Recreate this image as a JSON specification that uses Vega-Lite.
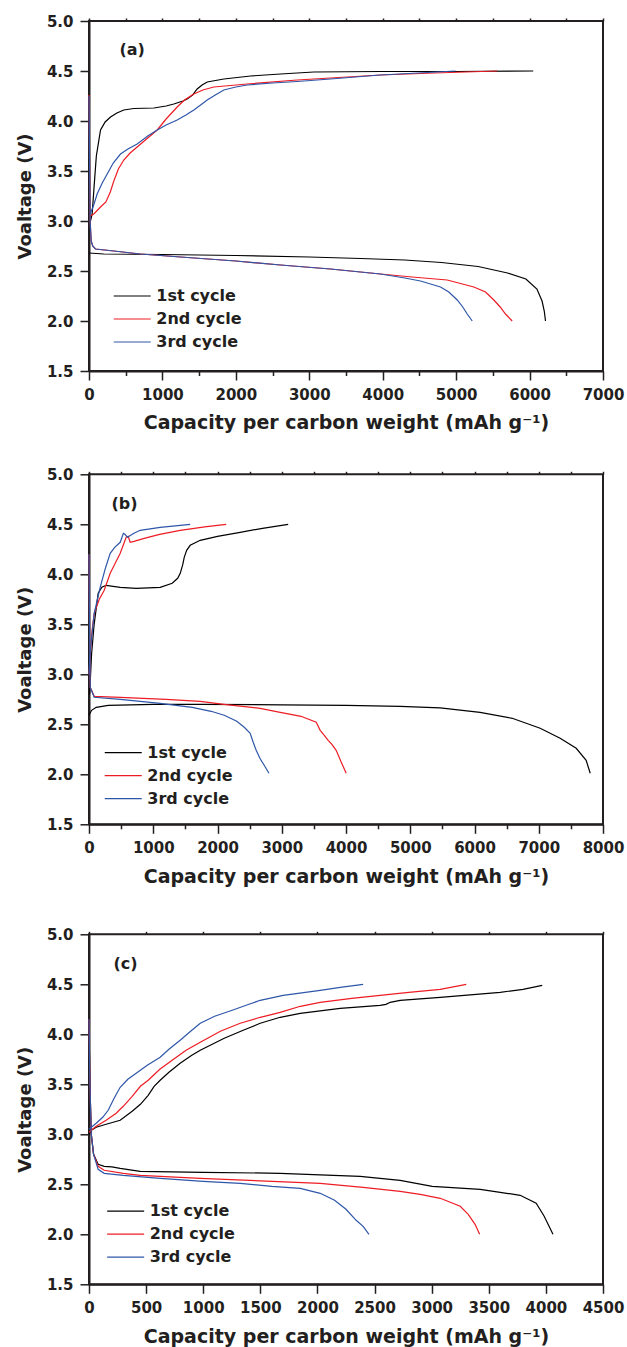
{
  "$schema": "https://vega.github.io/schema/vega-lite/v6.json",
  "background": "white",
  "padding": {"left": 15, "top": 13, "right": 0, "bottom": 0},
  "config": {
    "font": "DejaVu Sans",
    "view": {"stroke": "#231f20", "strokeWidth": 2},
    "axis": {
      "grid": false,
      "domainColor": "#231f20", "domainWidth": 2,
      "tickColor": "#231f20", "tickWidth": 1.5,
      "labelFont": "DejaVu Sans", "labelFontWeight": "bold", "labelFontSize": 15, "labelColor": "#231f20",
      "labelOverlap": false, "labelFlush": false,
      "titleFont": "DejaVu Sans", "titleFontWeight": "bold", "titleColor": "#231f20"
    },
    "axisX": {"labelPadding": 7.6, "titleFontSize": 19, "titlePadding": 11.3},
    "axisY": {"labelPadding": 7, "titleFontSize": 18, "titlePadding": 12},
    "legend": {
      "labelFont": "DejaVu Sans", "labelFontWeight": "bold", "labelFontSize": 16, "labelColor": "#231f20",
      "symbolType": "M-2,0H2", "symbolSize": 342, "symbolStrokeWidth": 1.2,
      "padding": 0, "rowPadding": 5, "labelOffset": 14, "title": null
    }
  },
  "datasets": {
    "a": [
      {"c":"1st cycle","s":"d","i":0,"x":0,"y":2.68},{"c":"1st cycle","s":"d","i":1,"x":200,"y":2.67},{"c":"1st cycle","s":"d","i":2,"x":1000,"y":2.665},{"c":"1st cycle","s":"d","i":3,"x":2000,"y":2.655},{"c":"1st cycle","s":"d","i":4,"x":3000,"y":2.64},{"c":"1st cycle","s":"d","i":5,"x":3700,"y":2.625},{"c":"1st cycle","s":"d","i":6,"x":4300,"y":2.61},{"c":"1st cycle","s":"d","i":7,"x":4800,"y":2.585},{"c":"1st cycle","s":"d","i":8,"x":5300,"y":2.545},{"c":"1st cycle","s":"d","i":9,"x":5700,"y":2.48},{"c":"1st cycle","s":"d","i":10,"x":5950,"y":2.42},{"c":"1st cycle","s":"d","i":11,"x":6100,"y":2.32},{"c":"1st cycle","s":"d","i":12,"x":6170,"y":2.2},{"c":"1st cycle","s":"d","i":13,"x":6200,"y":2.1},{"c":"1st cycle","s":"d","i":14,"x":6217,"y":2.0},
      {"c":"1st cycle","s":"ch","i":0,"x":20,"y":3.0},{"c":"1st cycle","s":"ch","i":1,"x":43,"y":3.07},{"c":"1st cycle","s":"ch","i":2,"x":70,"y":3.35},{"c":"1st cycle","s":"ch","i":3,"x":100,"y":3.65},{"c":"1st cycle","s":"ch","i":4,"x":157,"y":3.91},{"c":"1st cycle","s":"ch","i":5,"x":220,"y":3.99},{"c":"1st cycle","s":"ch","i":6,"x":293,"y":4.04},{"c":"1st cycle","s":"ch","i":7,"x":380,"y":4.08},{"c":"1st cycle","s":"ch","i":8,"x":474,"y":4.11},{"c":"1st cycle","s":"ch","i":9,"x":610,"y":4.125},{"c":"1st cycle","s":"ch","i":10,"x":883,"y":4.13},{"c":"1st cycle","s":"ch","i":11,"x":1050,"y":4.15},{"c":"1st cycle","s":"ch","i":12,"x":1155,"y":4.17},{"c":"1st cycle","s":"ch","i":13,"x":1280,"y":4.2},{"c":"1st cycle","s":"ch","i":14,"x":1337,"y":4.22},{"c":"1st cycle","s":"ch","i":15,"x":1410,"y":4.26},{"c":"1st cycle","s":"ch","i":16,"x":1473,"y":4.32},{"c":"1st cycle","s":"ch","i":17,"x":1540,"y":4.36},{"c":"1st cycle","s":"ch","i":18,"x":1610,"y":4.39},{"c":"1st cycle","s":"ch","i":19,"x":1836,"y":4.42},{"c":"1st cycle","s":"ch","i":20,"x":2200,"y":4.45},{"c":"1st cycle","s":"ch","i":21,"x":2608,"y":4.47},{"c":"1st cycle","s":"ch","i":22,"x":3062,"y":4.49},{"c":"1st cycle","s":"ch","i":23,"x":3970,"y":4.495},{"c":"1st cycle","s":"ch","i":24,"x":5000,"y":4.495},{"c":"1st cycle","s":"ch","i":25,"x":6050,"y":4.5},
      {"c":"2nd cycle","s":"d","i":0,"x":0,"y":4.26},{"c":"2nd cycle","s":"d","i":1,"x":8,"y":3.6},{"c":"2nd cycle","s":"d","i":2,"x":15,"y":3.0},{"c":"2nd cycle","s":"d","i":3,"x":30,"y":2.8},{"c":"2nd cycle","s":"d","i":4,"x":50,"y":2.75},{"c":"2nd cycle","s":"d","i":5,"x":88,"y":2.72},{"c":"2nd cycle","s":"d","i":6,"x":338,"y":2.7},{"c":"2nd cycle","s":"d","i":7,"x":700,"y":2.67},{"c":"2nd cycle","s":"d","i":8,"x":1246,"y":2.64},{"c":"2nd cycle","s":"d","i":9,"x":2000,"y":2.6},{"c":"2nd cycle","s":"d","i":10,"x":2608,"y":2.56},{"c":"2nd cycle","s":"d","i":11,"x":3288,"y":2.52},{"c":"2nd cycle","s":"d","i":12,"x":3970,"y":2.47},{"c":"2nd cycle","s":"d","i":13,"x":4400,"y":2.44},{"c":"2nd cycle","s":"d","i":14,"x":4878,"y":2.41},{"c":"2nd cycle","s":"d","i":15,"x":5241,"y":2.34},{"c":"2nd cycle","s":"d","i":16,"x":5400,"y":2.29},{"c":"2nd cycle","s":"d","i":17,"x":5513,"y":2.21},{"c":"2nd cycle","s":"d","i":18,"x":5600,"y":2.14},{"c":"2nd cycle","s":"d","i":19,"x":5672,"y":2.07},{"c":"2nd cycle","s":"d","i":20,"x":5763,"y":2.0},
      {"c":"2nd cycle","s":"ch","i":0,"x":15,"y":3.05},{"c":"2nd cycle","s":"ch","i":1,"x":65,"y":3.07},{"c":"2nd cycle","s":"ch","i":2,"x":157,"y":3.14},{"c":"2nd cycle","s":"ch","i":3,"x":230,"y":3.19},{"c":"2nd cycle","s":"ch","i":4,"x":290,"y":3.29},{"c":"2nd cycle","s":"ch","i":5,"x":338,"y":3.4},{"c":"2nd cycle","s":"ch","i":6,"x":400,"y":3.52},{"c":"2nd cycle","s":"ch","i":7,"x":474,"y":3.61},{"c":"2nd cycle","s":"ch","i":8,"x":560,"y":3.68},{"c":"2nd cycle","s":"ch","i":9,"x":656,"y":3.74},{"c":"2nd cycle","s":"ch","i":10,"x":800,"y":3.83},{"c":"2nd cycle","s":"ch","i":11,"x":929,"y":3.91},{"c":"2nd cycle","s":"ch","i":12,"x":1050,"y":4.02},{"c":"2nd cycle","s":"ch","i":13,"x":1201,"y":4.14},{"c":"2nd cycle","s":"ch","i":14,"x":1300,"y":4.21},{"c":"2nd cycle","s":"ch","i":15,"x":1428,"y":4.27},{"c":"2nd cycle","s":"ch","i":16,"x":1550,"y":4.31},{"c":"2nd cycle","s":"ch","i":17,"x":1700,"y":4.34},{"c":"2nd cycle","s":"ch","i":18,"x":2155,"y":4.37},{"c":"2nd cycle","s":"ch","i":19,"x":2836,"y":4.41},{"c":"2nd cycle","s":"ch","i":20,"x":3288,"y":4.43},{"c":"2nd cycle","s":"ch","i":21,"x":3970,"y":4.46},{"c":"2nd cycle","s":"ch","i":22,"x":4700,"y":4.48},{"c":"2nd cycle","s":"ch","i":23,"x":5559,"y":4.5},
      {"c":"3rd cycle","s":"d","i":0,"x":0,"y":4.25},{"c":"3rd cycle","s":"d","i":1,"x":8,"y":3.6},{"c":"3rd cycle","s":"d","i":2,"x":15,"y":3.0},{"c":"3rd cycle","s":"d","i":3,"x":30,"y":2.8},{"c":"3rd cycle","s":"d","i":4,"x":50,"y":2.75},{"c":"3rd cycle","s":"d","i":5,"x":88,"y":2.72},{"c":"3rd cycle","s":"d","i":6,"x":338,"y":2.7},{"c":"3rd cycle","s":"d","i":7,"x":700,"y":2.67},{"c":"3rd cycle","s":"d","i":8,"x":1246,"y":2.64},{"c":"3rd cycle","s":"d","i":9,"x":2000,"y":2.6},{"c":"3rd cycle","s":"d","i":10,"x":2608,"y":2.56},{"c":"3rd cycle","s":"d","i":11,"x":3288,"y":2.52},{"c":"3rd cycle","s":"d","i":12,"x":3970,"y":2.47},{"c":"3rd cycle","s":"d","i":13,"x":4300,"y":2.43},{"c":"3rd cycle","s":"d","i":14,"x":4515,"y":2.4},{"c":"3rd cycle","s":"d","i":15,"x":4787,"y":2.34},{"c":"3rd cycle","s":"d","i":16,"x":4900,"y":2.29},{"c":"3rd cycle","s":"d","i":17,"x":5015,"y":2.21},{"c":"3rd cycle","s":"d","i":18,"x":5090,"y":2.14},{"c":"3rd cycle","s":"d","i":19,"x":5151,"y":2.07},{"c":"3rd cycle","s":"d","i":20,"x":5219,"y":2.0},
      {"c":"3rd cycle","s":"ch","i":0,"x":15,"y":3.07},{"c":"3rd cycle","s":"ch","i":1,"x":60,"y":3.15},{"c":"3rd cycle","s":"ch","i":2,"x":111,"y":3.27},{"c":"3rd cycle","s":"ch","i":3,"x":180,"y":3.38},{"c":"3rd cycle","s":"ch","i":4,"x":248,"y":3.47},{"c":"3rd cycle","s":"ch","i":5,"x":330,"y":3.58},{"c":"3rd cycle","s":"ch","i":6,"x":429,"y":3.67},{"c":"3rd cycle","s":"ch","i":7,"x":530,"y":3.72},{"c":"3rd cycle","s":"ch","i":8,"x":656,"y":3.77},{"c":"3rd cycle","s":"ch","i":9,"x":800,"y":3.85},{"c":"3rd cycle","s":"ch","i":10,"x":929,"y":3.91},{"c":"3rd cycle","s":"ch","i":11,"x":1050,"y":3.96},{"c":"3rd cycle","s":"ch","i":12,"x":1201,"y":4.01},{"c":"3rd cycle","s":"ch","i":13,"x":1320,"y":4.06},{"c":"3rd cycle","s":"ch","i":14,"x":1428,"y":4.11},{"c":"3rd cycle","s":"ch","i":15,"x":1520,"y":4.16},{"c":"3rd cycle","s":"ch","i":16,"x":1610,"y":4.21},{"c":"3rd cycle","s":"ch","i":17,"x":1720,"y":4.26},{"c":"3rd cycle","s":"ch","i":18,"x":1836,"y":4.31},{"c":"3rd cycle","s":"ch","i":19,"x":2000,"y":4.34},{"c":"3rd cycle","s":"ch","i":20,"x":2155,"y":4.36},{"c":"3rd cycle","s":"ch","i":21,"x":2500,"y":4.38},{"c":"3rd cycle","s":"ch","i":22,"x":2836,"y":4.395},{"c":"3rd cycle","s":"ch","i":23,"x":3288,"y":4.42},{"c":"3rd cycle","s":"ch","i":24,"x":3970,"y":4.46},{"c":"3rd cycle","s":"ch","i":25,"x":4991,"y":4.5}
    ],
    "b": [
      {"c":"1st cycle","s":"d","i":0,"x":0,"y":2.59},{"c":"1st cycle","s":"d","i":1,"x":40,"y":2.64},{"c":"1st cycle","s":"d","i":2,"x":112,"y":2.67},{"c":"1st cycle","s":"d","i":3,"x":299,"y":2.69},{"c":"1st cycle","s":"d","i":4,"x":1000,"y":2.7},{"c":"1st cycle","s":"d","i":5,"x":1731,"y":2.7},{"c":"1st cycle","s":"d","i":6,"x":3000,"y":2.695},{"c":"1st cycle","s":"d","i":7,"x":4000,"y":2.69},{"c":"1st cycle","s":"d","i":8,"x":4844,"y":2.68},{"c":"1st cycle","s":"d","i":9,"x":5466,"y":2.665},{"c":"1st cycle","s":"d","i":10,"x":6087,"y":2.62},{"c":"1st cycle","s":"d","i":11,"x":6587,"y":2.56},{"c":"1st cycle","s":"d","i":12,"x":7022,"y":2.46},{"c":"1st cycle","s":"d","i":13,"x":7333,"y":2.36},{"c":"1st cycle","s":"d","i":14,"x":7583,"y":2.26},{"c":"1st cycle","s":"d","i":15,"x":7738,"y":2.14},{"c":"1st cycle","s":"d","i":16,"x":7801,"y":2.01},
      {"c":"1st cycle","s":"ch","i":0,"x":10,"y":2.8},{"c":"1st cycle","s":"ch","i":1,"x":40,"y":3.2},{"c":"1st cycle","s":"ch","i":2,"x":80,"y":3.5},{"c":"1st cycle","s":"ch","i":3,"x":143,"y":3.81},{"c":"1st cycle","s":"ch","i":4,"x":200,"y":3.87},{"c":"1st cycle","s":"ch","i":5,"x":268,"y":3.89},{"c":"1st cycle","s":"ch","i":6,"x":486,"y":3.87},{"c":"1st cycle","s":"ch","i":7,"x":735,"y":3.86},{"c":"1st cycle","s":"ch","i":8,"x":1108,"y":3.87},{"c":"1st cycle","s":"ch","i":9,"x":1295,"y":3.91},{"c":"1st cycle","s":"ch","i":10,"x":1380,"y":3.96},{"c":"1st cycle","s":"ch","i":11,"x":1420,"y":4.01},{"c":"1st cycle","s":"ch","i":12,"x":1460,"y":4.1},{"c":"1st cycle","s":"ch","i":13,"x":1482,"y":4.17},{"c":"1st cycle","s":"ch","i":14,"x":1520,"y":4.24},{"c":"1st cycle","s":"ch","i":15,"x":1575,"y":4.29},{"c":"1st cycle","s":"ch","i":16,"x":1731,"y":4.34},{"c":"1st cycle","s":"ch","i":17,"x":2000,"y":4.38},{"c":"1st cycle","s":"ch","i":18,"x":2353,"y":4.42},{"c":"1st cycle","s":"ch","i":19,"x":2700,"y":4.46},{"c":"1st cycle","s":"ch","i":20,"x":3100,"y":4.5},
      {"c":"2nd cycle","s":"d","i":0,"x":0,"y":4.2},{"c":"2nd cycle","s":"d","i":1,"x":8,"y":3.5},{"c":"2nd cycle","s":"d","i":2,"x":19,"y":2.87},{"c":"2nd cycle","s":"d","i":3,"x":81,"y":2.78},{"c":"2nd cycle","s":"d","i":4,"x":486,"y":2.77},{"c":"2nd cycle","s":"d","i":5,"x":1200,"y":2.75},{"c":"2nd cycle","s":"d","i":6,"x":1731,"y":2.73},{"c":"2nd cycle","s":"d","i":7,"x":2100,"y":2.7},{"c":"2nd cycle","s":"d","i":8,"x":2664,"y":2.66},{"c":"2nd cycle","s":"d","i":9,"x":2976,"y":2.62},{"c":"2nd cycle","s":"d","i":10,"x":3300,"y":2.58},{"c":"2nd cycle","s":"d","i":11,"x":3536,"y":2.52},{"c":"2nd cycle","s":"d","i":12,"x":3598,"y":2.44},{"c":"2nd cycle","s":"d","i":13,"x":3650,"y":2.4},{"c":"2nd cycle","s":"d","i":14,"x":3723,"y":2.34},{"c":"2nd cycle","s":"d","i":15,"x":3780,"y":2.3},{"c":"2nd cycle","s":"d","i":16,"x":3847,"y":2.24},{"c":"2nd cycle","s":"d","i":17,"x":3920,"y":2.13},{"c":"2nd cycle","s":"d","i":18,"x":4003,"y":2.01},
      {"c":"2nd cycle","s":"ch","i":0,"x":0,"y":3.0},{"c":"2nd cycle","s":"ch","i":1,"x":20,"y":3.2},{"c":"2nd cycle","s":"ch","i":2,"x":50,"y":3.45},{"c":"2nd cycle","s":"ch","i":3,"x":81,"y":3.61},{"c":"2nd cycle","s":"ch","i":4,"x":160,"y":3.75},{"c":"2nd cycle","s":"ch","i":5,"x":237,"y":3.84},{"c":"2nd cycle","s":"ch","i":6,"x":330,"y":4.01},{"c":"2nd cycle","s":"ch","i":7,"x":400,"y":4.1},{"c":"2nd cycle","s":"ch","i":8,"x":486,"y":4.21},{"c":"2nd cycle","s":"ch","i":9,"x":579,"y":4.37},{"c":"2nd cycle","s":"ch","i":10,"x":610,"y":4.38},{"c":"2nd cycle","s":"ch","i":11,"x":641,"y":4.32},{"c":"2nd cycle","s":"ch","i":12,"x":700,"y":4.33},{"c":"2nd cycle","s":"ch","i":13,"x":859,"y":4.36},{"c":"2nd cycle","s":"ch","i":14,"x":1100,"y":4.4},{"c":"2nd cycle","s":"ch","i":15,"x":1420,"y":4.44},{"c":"2nd cycle","s":"ch","i":16,"x":1800,"y":4.475},{"c":"2nd cycle","s":"ch","i":17,"x":2135,"y":4.5},
      {"c":"3rd cycle","s":"d","i":0,"x":0,"y":4.2},{"c":"3rd cycle","s":"d","i":1,"x":8,"y":3.5},{"c":"3rd cycle","s":"d","i":2,"x":19,"y":2.87},{"c":"3rd cycle","s":"d","i":3,"x":81,"y":2.77},{"c":"3rd cycle","s":"d","i":4,"x":486,"y":2.75},{"c":"3rd cycle","s":"d","i":5,"x":1108,"y":2.71},{"c":"3rd cycle","s":"d","i":6,"x":1606,"y":2.67},{"c":"3rd cycle","s":"d","i":7,"x":1900,"y":2.63},{"c":"3rd cycle","s":"d","i":8,"x":2104,"y":2.59},{"c":"3rd cycle","s":"d","i":9,"x":2300,"y":2.53},{"c":"3rd cycle","s":"d","i":10,"x":2416,"y":2.47},{"c":"3rd cycle","s":"d","i":11,"x":2509,"y":2.41},{"c":"3rd cycle","s":"d","i":12,"x":2550,"y":2.33},{"c":"3rd cycle","s":"d","i":13,"x":2602,"y":2.24},{"c":"3rd cycle","s":"d","i":14,"x":2660,"y":2.16},{"c":"3rd cycle","s":"d","i":15,"x":2727,"y":2.09},{"c":"3rd cycle","s":"d","i":16,"x":2801,"y":2.01},
      {"c":"3rd cycle","s":"ch","i":0,"x":0,"y":3.0},{"c":"3rd cycle","s":"ch","i":1,"x":15,"y":3.2},{"c":"3rd cycle","s":"ch","i":2,"x":37,"y":3.34},{"c":"3rd cycle","s":"ch","i":3,"x":81,"y":3.61},{"c":"3rd cycle","s":"ch","i":4,"x":174,"y":3.87},{"c":"3rd cycle","s":"ch","i":5,"x":250,"y":4.05},{"c":"3rd cycle","s":"ch","i":6,"x":330,"y":4.21},{"c":"3rd cycle","s":"ch","i":7,"x":400,"y":4.27},{"c":"3rd cycle","s":"ch","i":8,"x":486,"y":4.32},{"c":"3rd cycle","s":"ch","i":9,"x":535,"y":4.41},{"c":"3rd cycle","s":"ch","i":10,"x":560,"y":4.4},{"c":"3rd cycle","s":"ch","i":11,"x":598,"y":4.37},{"c":"3rd cycle","s":"ch","i":12,"x":700,"y":4.41},{"c":"3rd cycle","s":"ch","i":13,"x":797,"y":4.44},{"c":"3rd cycle","s":"ch","i":14,"x":1108,"y":4.47},{"c":"3rd cycle","s":"ch","i":15,"x":1575,"y":4.5}
    ],
    "c": [
      {"c":"1st cycle","s":"d","i":0,"x":0,"y":4.15},{"c":"1st cycle","s":"d","i":1,"x":8,"y":3.5},{"c":"1st cycle","s":"d","i":2,"x":20,"y":3.0},{"c":"1st cycle","s":"d","i":3,"x":40,"y":2.8},{"c":"1st cycle","s":"d","i":4,"x":80,"y":2.7},{"c":"1st cycle","s":"d","i":5,"x":133,"y":2.68},{"c":"1st cycle","s":"d","i":6,"x":200,"y":2.675},{"c":"1st cycle","s":"d","i":7,"x":273,"y":2.66},{"c":"1st cycle","s":"d","i":8,"x":448,"y":2.63},{"c":"1st cycle","s":"d","i":9,"x":1000,"y":2.62},{"c":"1st cycle","s":"d","i":10,"x":1674,"y":2.61},{"c":"1st cycle","s":"d","i":11,"x":2374,"y":2.58},{"c":"1st cycle","s":"d","i":12,"x":2724,"y":2.54},{"c":"1st cycle","s":"d","i":13,"x":3005,"y":2.48},{"c":"1st cycle","s":"d","i":14,"x":3425,"y":2.45},{"c":"1st cycle","s":"d","i":15,"x":3600,"y":2.42},{"c":"1st cycle","s":"d","i":16,"x":3775,"y":2.39},{"c":"1st cycle","s":"d","i":17,"x":3915,"y":2.31},{"c":"1st cycle","s":"d","i":18,"x":3985,"y":2.18},{"c":"1st cycle","s":"d","i":19,"x":4062,"y":2.0},
      {"c":"1st cycle","s":"ch","i":0,"x":0,"y":3.0},{"c":"1st cycle","s":"ch","i":1,"x":20,"y":3.04},{"c":"1st cycle","s":"ch","i":2,"x":63,"y":3.07},{"c":"1st cycle","s":"ch","i":3,"x":150,"y":3.1},{"c":"1st cycle","s":"ch","i":4,"x":273,"y":3.14},{"c":"1st cycle","s":"ch","i":5,"x":378,"y":3.23},{"c":"1st cycle","s":"ch","i":6,"x":450,"y":3.3},{"c":"1st cycle","s":"ch","i":7,"x":518,"y":3.39},{"c":"1st cycle","s":"ch","i":8,"x":570,"y":3.48},{"c":"1st cycle","s":"ch","i":9,"x":623,"y":3.54},{"c":"1st cycle","s":"ch","i":10,"x":700,"y":3.62},{"c":"1st cycle","s":"ch","i":11,"x":798,"y":3.71},{"c":"1st cycle","s":"ch","i":12,"x":900,"y":3.79},{"c":"1st cycle","s":"ch","i":13,"x":974,"y":3.84},{"c":"1st cycle","s":"ch","i":14,"x":1184,"y":3.96},{"c":"1st cycle","s":"ch","i":15,"x":1350,"y":4.04},{"c":"1st cycle","s":"ch","i":16,"x":1499,"y":4.11},{"c":"1st cycle","s":"ch","i":17,"x":1674,"y":4.17},{"c":"1st cycle","s":"ch","i":18,"x":1849,"y":4.21},{"c":"1st cycle","s":"ch","i":19,"x":2199,"y":4.26},{"c":"1st cycle","s":"ch","i":20,"x":2549,"y":4.29},{"c":"1st cycle","s":"ch","i":21,"x":2600,"y":4.3},{"c":"1st cycle","s":"ch","i":22,"x":2637,"y":4.32},{"c":"1st cycle","s":"ch","i":23,"x":2724,"y":4.34},{"c":"1st cycle","s":"ch","i":24,"x":3075,"y":4.37},{"c":"1st cycle","s":"ch","i":25,"x":3600,"y":4.42},{"c":"1st cycle","s":"ch","i":26,"x":3800,"y":4.45},{"c":"1st cycle","s":"ch","i":27,"x":3968,"y":4.49},
      {"c":"2nd cycle","s":"d","i":0,"x":0,"y":4.15},{"c":"2nd cycle","s":"d","i":1,"x":8,"y":3.5},{"c":"2nd cycle","s":"d","i":2,"x":20,"y":3.0},{"c":"2nd cycle","s":"d","i":3,"x":40,"y":2.8},{"c":"2nd cycle","s":"d","i":4,"x":80,"y":2.68},{"c":"2nd cycle","s":"d","i":5,"x":133,"y":2.64},{"c":"2nd cycle","s":"d","i":6,"x":300,"y":2.61},{"c":"2nd cycle","s":"d","i":7,"x":448,"y":2.59},{"c":"2nd cycle","s":"d","i":8,"x":974,"y":2.56},{"c":"2nd cycle","s":"d","i":9,"x":1500,"y":2.535},{"c":"2nd cycle","s":"d","i":10,"x":2024,"y":2.51},{"c":"2nd cycle","s":"d","i":11,"x":2400,"y":2.47},{"c":"2nd cycle","s":"d","i":12,"x":2724,"y":2.43},{"c":"2nd cycle","s":"d","i":13,"x":2900,"y":2.4},{"c":"2nd cycle","s":"d","i":14,"x":3075,"y":2.36},{"c":"2nd cycle","s":"d","i":15,"x":3250,"y":2.28},{"c":"2nd cycle","s":"d","i":16,"x":3320,"y":2.2},{"c":"2nd cycle","s":"d","i":17,"x":3380,"y":2.1},{"c":"2nd cycle","s":"d","i":18,"x":3420,"y":2.0},
      {"c":"2nd cycle","s":"ch","i":0,"x":0,"y":3.02},{"c":"2nd cycle","s":"ch","i":1,"x":20,"y":3.04},{"c":"2nd cycle","s":"ch","i":2,"x":63,"y":3.08},{"c":"2nd cycle","s":"ch","i":3,"x":150,"y":3.14},{"c":"2nd cycle","s":"ch","i":4,"x":238,"y":3.21},{"c":"2nd cycle","s":"ch","i":5,"x":300,"y":3.28},{"c":"2nd cycle","s":"ch","i":6,"x":378,"y":3.38},{"c":"2nd cycle","s":"ch","i":7,"x":450,"y":3.48},{"c":"2nd cycle","s":"ch","i":8,"x":518,"y":3.54},{"c":"2nd cycle","s":"ch","i":9,"x":620,"y":3.65},{"c":"2nd cycle","s":"ch","i":10,"x":728,"y":3.74},{"c":"2nd cycle","s":"ch","i":11,"x":850,"y":3.84},{"c":"2nd cycle","s":"ch","i":12,"x":974,"y":3.92},{"c":"2nd cycle","s":"ch","i":13,"x":1150,"y":4.03},{"c":"2nd cycle","s":"ch","i":14,"x":1324,"y":4.11},{"c":"2nd cycle","s":"ch","i":15,"x":1500,"y":4.17},{"c":"2nd cycle","s":"ch","i":16,"x":1674,"y":4.22},{"c":"2nd cycle","s":"ch","i":17,"x":1850,"y":4.28},{"c":"2nd cycle","s":"ch","i":18,"x":2024,"y":4.32},{"c":"2nd cycle","s":"ch","i":19,"x":2300,"y":4.36},{"c":"2nd cycle","s":"ch","i":20,"x":2549,"y":4.39},{"c":"2nd cycle","s":"ch","i":21,"x":2800,"y":4.42},{"c":"2nd cycle","s":"ch","i":22,"x":3075,"y":4.45},{"c":"2nd cycle","s":"ch","i":23,"x":3303,"y":4.5},
      {"c":"3rd cycle","s":"d","i":0,"x":0,"y":4.15},{"c":"3rd cycle","s":"d","i":1,"x":8,"y":3.5},{"c":"3rd cycle","s":"d","i":2,"x":20,"y":3.0},{"c":"3rd cycle","s":"d","i":3,"x":40,"y":2.8},{"c":"3rd cycle","s":"d","i":4,"x":80,"y":2.65},{"c":"3rd cycle","s":"d","i":5,"x":133,"y":2.61},{"c":"3rd cycle","s":"d","i":6,"x":300,"y":2.59},{"c":"3rd cycle","s":"d","i":7,"x":623,"y":2.56},{"c":"3rd cycle","s":"d","i":8,"x":1000,"y":2.53},{"c":"3rd cycle","s":"d","i":9,"x":1324,"y":2.51},{"c":"3rd cycle","s":"d","i":10,"x":1600,"y":2.48},{"c":"3rd cycle","s":"d","i":11,"x":1849,"y":2.46},{"c":"3rd cycle","s":"d","i":12,"x":2024,"y":2.41},{"c":"3rd cycle","s":"d","i":13,"x":2150,"y":2.34},{"c":"3rd cycle","s":"d","i":14,"x":2250,"y":2.25},{"c":"3rd cycle","s":"d","i":15,"x":2339,"y":2.14},{"c":"3rd cycle","s":"d","i":16,"x":2400,"y":2.08},{"c":"3rd cycle","s":"d","i":17,"x":2451,"y":2.0},
      {"c":"3rd cycle","s":"ch","i":0,"x":0,"y":3.05},{"c":"3rd cycle","s":"ch","i":1,"x":20,"y":3.07},{"c":"3rd cycle","s":"ch","i":2,"x":63,"y":3.11},{"c":"3rd cycle","s":"ch","i":3,"x":120,"y":3.17},{"c":"3rd cycle","s":"ch","i":4,"x":168,"y":3.24},{"c":"3rd cycle","s":"ch","i":5,"x":220,"y":3.36},{"c":"3rd cycle","s":"ch","i":6,"x":273,"y":3.47},{"c":"3rd cycle","s":"ch","i":7,"x":340,"y":3.55},{"c":"3rd cycle","s":"ch","i":8,"x":413,"y":3.61},{"c":"3rd cycle","s":"ch","i":9,"x":510,"y":3.69},{"c":"3rd cycle","s":"ch","i":10,"x":623,"y":3.77},{"c":"3rd cycle","s":"ch","i":11,"x":700,"y":3.85},{"c":"3rd cycle","s":"ch","i":12,"x":798,"y":3.94},{"c":"3rd cycle","s":"ch","i":13,"x":900,"y":4.04},{"c":"3rd cycle","s":"ch","i":14,"x":974,"y":4.11},{"c":"3rd cycle","s":"ch","i":15,"x":1100,"y":4.18},{"c":"3rd cycle","s":"ch","i":16,"x":1254,"y":4.24},{"c":"3rd cycle","s":"ch","i":17,"x":1400,"y":4.3},{"c":"3rd cycle","s":"ch","i":18,"x":1499,"y":4.34},{"c":"3rd cycle","s":"ch","i":19,"x":1700,"y":4.39},{"c":"3rd cycle","s":"ch","i":20,"x":2024,"y":4.44},{"c":"3rd cycle","s":"ch","i":21,"x":2200,"y":4.47},{"c":"3rd cycle","s":"ch","i":22,"x":2400,"y":4.5}
    ]
  },
  "bounds": "flush",
  "spacing": 103.3,
  "resolve": {"scale": {"color": "independent"}, "legend": {"color": "independent"}},
  "vconcat": [
    {
      "width": 514, "height": 350,
      "resolve": {"axis": {"x": "independent"}},
      "layer": [
        {
          "data": {"name": "a"},
          "mark": {"type": "line", "strokeWidth": 1.2},
          "encoding": {
            "x": {"field": "x", "type": "quantitative", "scale": {"domain": [0, 7000], "nice": false, "zero": false},
              "axis": {"orient": "bottom", "title": "Capacity per carbon weight (mAh g⁻¹)", "values": [0,500,1000,1500,2000,2500,3000,3500,4000,4500,5000,5500,6000,6500,7000],
                "labelExpr": "datum.value % 1000 == 0 ? format(datum.value, 'd') : ''",
                "tickSize": {"condition": {"test": "datum.value % 1000 == 0", "value": 9}, "value": 4.5}}},
            "y": {"field": "y", "type": "quantitative", "scale": {"domain": [1.5, 5.0], "nice": false, "zero": false},
              "axis": {"title": "Voaltage (V)", "values": [1.5,1.75,2,2.25,2.5,2.75,3,3.25,3.5,3.75,4,4.25,4.5,4.75,5],
                "labelExpr": "(datum.value * 2) % 1 == 0 ? format(datum.value, '.1f') : ''",
                "tickSize": {"condition": {"test": "(datum.value * 2) % 1 == 0", "value": 9}, "value": 4.5}}},
            "color": {"field": "c", "type": "nominal", "scale": {"domain": ["1st cycle", "2nd cycle", "3rd cycle"], "range": ["#000000", "#ed1c24", "#2e56a8"]},
              "legend": {"orient": "none", "legendX": 33.25, "legendY": 265}},
            "detail": {"field": "s"},
            "order": {"field": "i", "type": "quantitative"}
          }
        },
        {
          "data": {"values": [{}]},
          "mark": {"type": "text", "text": "(a)", "align": "left", "baseline": "middle", "font": "DejaVu Sans", "fontWeight": "bold", "fontSize": 16, "color": "#231f20"},
          "encoding": {
            "x": {"datum": 415, "type": "quantitative",
              "axis": {"orient": "top", "labels": false, "title": null, "domain": false, "tickSize": 3, "values": [0,500,1000,1500,2000,2500,3000,3500,4000,4500,5000,5500,6000,6500,7000]}},
            "y": {"datum": 4.707, "type": "quantitative"}
          }
        }
      ]
    },
    {
      "bounds": "flush",
      "spacing": 110,
      "resolve": {"scale": {"color": "independent"}, "legend": {"color": "independent"}},
      "vconcat": [
        {
          "width": 514, "height": 350,
          "resolve": {"axis": {"x": "independent"}},
          "layer": [
            {
              "data": {"name": "b"},
              "mark": {"type": "line", "strokeWidth": 1.2},
              "encoding": {
                "x": {"field": "x", "type": "quantitative", "scale": {"domain": [0, 8000], "nice": false, "zero": false},
                  "axis": {"orient": "bottom", "title": "Capacity per carbon weight (mAh g⁻¹)", "values": [0,500,1000,1500,2000,2500,3000,3500,4000,4500,5000,5500,6000,6500,7000,7500,8000],
                    "labelExpr": "datum.value % 1000 == 0 ? format(datum.value, 'd') : ''",
                    "tickSize": {"condition": {"test": "datum.value % 1000 == 0", "value": 9}, "value": 4.5}}},
                "y": {"field": "y", "type": "quantitative", "scale": {"domain": [1.5, 5.0], "nice": false, "zero": false},
                  "axis": {"title": "Voaltage (V)", "values": [1.5,1.75,2,2.25,2.5,2.75,3,3.25,3.5,3.75,4,4.25,4.5,4.75,5],
                    "labelExpr": "(datum.value * 2) % 1 == 0 ? format(datum.value, '.1f') : ''",
                    "tickSize": {"condition": {"test": "(datum.value * 2) % 1 == 0", "value": 9}, "value": 4.5}}},
                "color": {"field": "c", "type": "nominal", "scale": {"domain": ["1st cycle", "2nd cycle", "3rd cycle"], "range": ["#000000", "#ed1c24", "#2e56a8"]},
                  "legend": {"orient": "none", "legendX": 24.25, "legendY": 268.4}},
                "detail": {"field": "s"},
                "order": {"field": "i", "type": "quantitative"}
              }
            },
            {
              "data": {"values": [{}]},
              "mark": {"type": "text", "text": "(b)", "align": "left", "baseline": "middle", "font": "DejaVu Sans", "fontWeight": "bold", "fontSize": 16, "color": "#231f20"},
              "encoding": {
                "x": {"datum": 349, "type": "quantitative",
                  "axis": {"orient": "top", "labels": false, "title": null, "domain": false, "tickSize": 3, "values": [0,500,1000,1500,2000,2500,3000,3500,4000,4500,5000,5500,6000,6500,7000,7500,8000]}},
                "y": {"datum": 4.707, "type": "quantitative"}
              }
            }
          ]
        },
        {
          "width": 514, "height": 350,
          "resolve": {"axis": {"x": "independent"}},
          "layer": [
            {
              "data": {"name": "c"},
              "mark": {"type": "line", "strokeWidth": 1.2},
              "encoding": {
                "x": {"field": "x", "type": "quantitative", "scale": {"domain": [0, 4500], "nice": false, "zero": false},
                  "axis": {"orient": "bottom", "title": "Capacity per carbon weight (mAh g⁻¹)", "values": [0,500,1000,1500,2000,2500,3000,3500,4000,4500],
                    "labelExpr": "format(datum.value, 'd')", "tickSize": 9}},
                "y": {"field": "y", "type": "quantitative", "scale": {"domain": [1.5, 5.0], "nice": false, "zero": false},
                  "axis": {"title": "Voaltage (V)", "values": [1.5,1.75,2,2.25,2.5,2.75,3,3.25,3.5,3.75,4,4.25,4.5,4.75,5],
                    "labelExpr": "(datum.value * 2) % 1 == 0 ? format(datum.value, '.1f') : ''",
                    "tickSize": {"condition": {"test": "(datum.value * 2) % 1 == 0", "value": 9}, "value": 4.5}}},
                "color": {"field": "c", "type": "nominal", "scale": {"domain": ["1st cycle", "2nd cycle", "3rd cycle"], "range": ["#000000", "#ed1c24", "#2e56a8"]},
                  "legend": {"orient": "none", "legendX": 26.65, "legendY": 266.75}},
                "detail": {"field": "s"},
                "order": {"field": "i", "type": "quantitative"}
              }
            },
            {
              "data": {"values": [{}]},
              "mark": {"type": "text", "text": "(c)", "align": "left", "baseline": "middle", "font": "DejaVu Sans", "fontWeight": "bold", "fontSize": 16, "color": "#231f20"},
              "encoding": {
                "x": {"datum": 214, "type": "quantitative",
                  "axis": {"orient": "top", "labels": false, "title": null, "domain": false, "tickSize": 3, "values": [0,500,1000,1500,2000,2500,3000,3500,4000,4500]}},
                "y": {"datum": 4.707, "type": "quantitative"}
              }
            }
          ]
        }
      ]
    }
  ]
}
